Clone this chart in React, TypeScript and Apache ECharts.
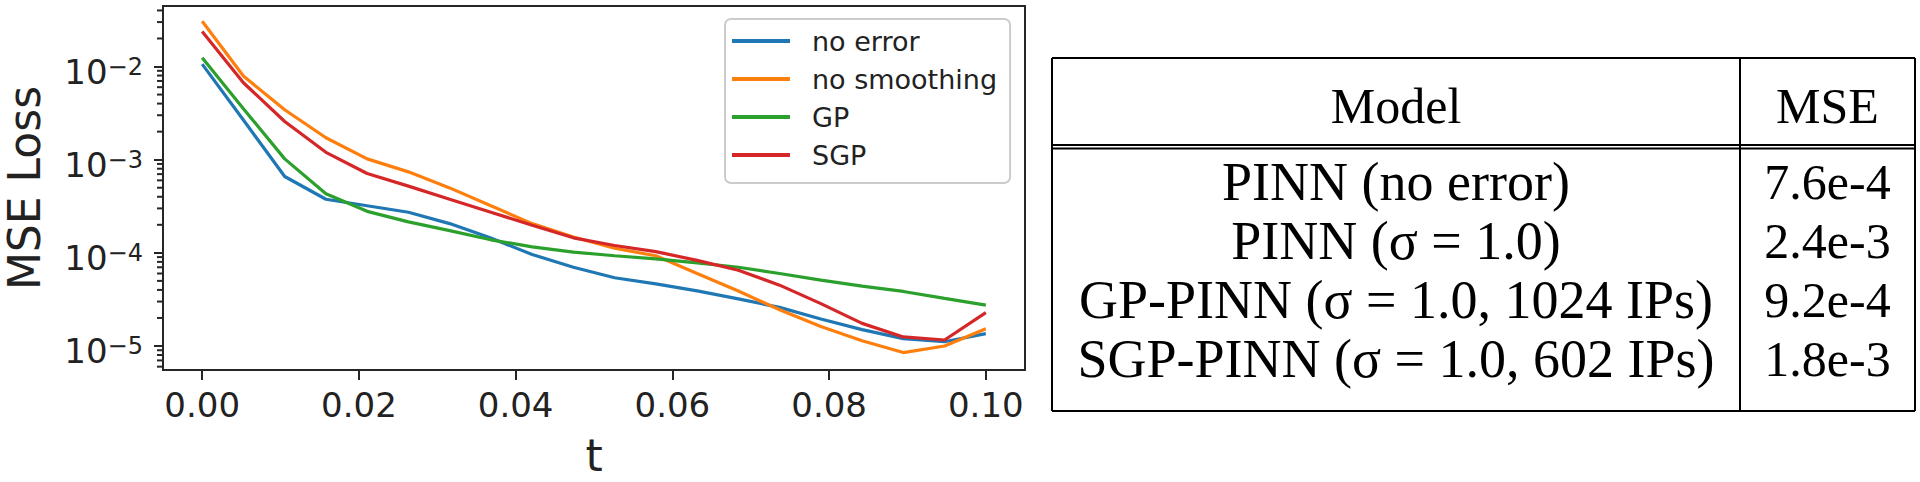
import React, { useEffect, useRef } from 'react';
import * as echarts from 'echarts';

// ---- data ----
const times = [0, 0.00526, 0.01053, 0.01579, 0.02105, 0.02632, 0.03158, 0.03684, 0.04211, 0.04737, 0.05263, 0.05789, 0.06316, 0.06842, 0.07368, 0.07895, 0.08421, 0.08947, 0.09474, 0.1];
const noError = [1.06e-2, 2.67e-3, 6.6e-4, 3.76e-4, 3.2e-4, 2.73e-4, 2.06e-4, 1.44e-4, 9.6e-5, 7.0e-5, 5.4e-5, 4.65e-5, 3.9e-5, 3.2e-5, 2.6e-5, 1.95e-5, 1.5e-5, 1.2e-5, 1.11e-5, 1.36e-5];
const noSmoothing = [3.06e-2, 7.9e-3, 3.44e-3, 1.72e-3, 1.02e-3, 7.4e-4, 4.98e-4, 3.2e-4, 2.06e-4, 1.48e-4, 1.12e-4, 9.3e-5, 6.0e-5, 3.9e-5, 2.45e-5, 1.62e-5, 1.14e-5, 8.5e-6, 1.0e-5, 1.53e-5];
const gpLoss = [1.24e-2, 3.53e-3, 1.02e-3, 4.3e-4, 2.79e-4, 2.15e-4, 1.73e-4, 1.38e-4, 1.16e-4, 1.02e-4, 9.3e-5, 8.6e-5, 7.8e-5, 7.0e-5, 6.0e-5, 5.1e-5, 4.4e-5, 3.85e-5, 3.25e-5, 2.75e-5];
const sgpLoss = [2.37e-2, 6.7e-3, 2.57e-3, 1.2e-3, 7.1e-4, 5.2e-4, 3.76e-4, 2.73e-4, 1.98e-4, 1.45e-4, 1.2e-4, 1.03e-4, 8.3e-5, 6.5e-5, 4.5e-5, 2.85e-5, 1.75e-5, 1.25e-5, 1.16e-5, 2.28e-5];

const seriesNames = ['no error', 'no smoothing', 'GP', 'SGP'];
const seriesValues = [noError, noSmoothing, gpLoss, sgpLoss];
const seriesColors = ['#1f77b4', '#ff7f0e', '#2ca02c', '#d62728'];

const xTicks = [0, 0.02, 0.04, 0.06, 0.08, 0.1];
const xMin = -0.005;
const xMax = 0.105;
const yMajorTicks = [1e-5, 1e-4, 1e-3, 1e-2];
const yMinorTicks = [
  6e-6, 7e-6, 8e-6, 9e-6,
  2e-5, 3e-5, 4e-5, 5e-5, 6e-5, 7e-5, 8e-5, 9e-5,
  2e-4, 3e-4, 4e-4, 5e-4, 6e-4, 7e-4, 8e-4, 9e-4,
  2e-3, 3e-3, 4e-3, 5e-3, 6e-3, 7e-3, 8e-3, 9e-3,
  2e-2, 3e-2, 4e-2,
];
const yMin = 5.525e-6;
const yMax = 0.04464;

const tableHeader = ['Model', 'MSE'];
const tableModels = ['PINN (no error)', 'PINN (σ = 1.0)', 'GP-PINN (σ = 1.0, 1024 IPs)', 'SGP-PINN (σ = 1.0, 602 IPs)'];
const tableMse = ['7.6e-4', '2.4e-3', '9.2e-4', '1.8e-3'];

// ---- layout ----
const SANS = 'DejaVu Sans';
const SERIF = 'Liberation Serif';
const INK = '#262626';
const MINOR_LEN = 6;

const T_LEFT = 1052;
const T_DIV = 1740;
const T_RIGHT = 1915;
const T_TOP = 58;
const T_HEAD1 = 145;
const T_HEAD2 = 148.5;
const T_BOTTOM = 411;
const T_HEAD_Y = 106;
const T_ROW_Y0 = 182;
const T_ROW_STEP = 59;

function buildTable(): any[] {
  const els: any[] = [];
  const line = (x1: number, y1: number, x2: number, y2: number) => ({
    type: 'line',
    shape: { x1, y1, x2, y2 },
    style: { stroke: '#000', lineWidth: 2 },
    silent: true,
  });
  const text = (s: string, x: number, y: number, size: number) => ({
    type: 'text',
    x,
    y,
    style: {
      text: s,
      fontSize: size,
      fontFamily: SERIF,
      fill: '#000',
      textAlign: 'center',
      textVerticalAlign: 'middle',
    },
    silent: true,
  });
  els.push(line(T_LEFT, T_TOP, T_RIGHT, T_TOP));
  els.push(line(T_LEFT, T_HEAD1, T_RIGHT, T_HEAD1));
  els.push(line(T_LEFT, T_HEAD2, T_RIGHT, T_HEAD2));
  els.push(line(T_LEFT, T_BOTTOM, T_RIGHT, T_BOTTOM));
  els.push(line(T_LEFT, T_TOP, T_LEFT, T_BOTTOM));
  els.push(line(T_RIGHT, T_TOP, T_RIGHT, T_BOTTOM));
  els.push(line(T_DIV, T_TOP, T_DIV, T_BOTTOM));
  const cModel = (T_LEFT + T_DIV) / 2;
  const cMse = (T_DIV + T_RIGHT) / 2;
  els.push(text(tableHeader[0], cModel, T_HEAD_Y, 50));
  els.push(text(tableHeader[1], cMse, T_HEAD_Y, 50));
  tableModels.forEach((m, i) => {
    const y = T_ROW_Y0 + i * T_ROW_STEP;
    els.push(text(m, cModel, y, 54));
    els.push(text(tableMse[i], cMse, y, 50));
  });
  return els;
}

export default function App() {
  const ref = useRef<HTMLDivElement>(null);
  useEffect(() => {
    if (!ref.current) return;
    const chart = echarts.init(ref.current, undefined, { renderer: 'svg' });
    const option: any = {
      animation: false,
      backgroundColor: '#ffffff',
      textStyle: { fontFamily: SANS },
      grid: {
        left: 163,
        top: 6,
        width: 862,
        height: 375,
        show: true,
        borderColor: INK,
        borderWidth: 2,
        backgroundColor: 'transparent',
        containLabel: false,
      },
      legend: {
        orient: 'vertical',
        left: 725,
        top: 19,
        padding: [7, 13, 13, 7],
        itemGap: 8,
        itemWidth: 58,
        itemHeight: 4,
        icon: 'rect',
        backgroundColor: 'rgba(255,255,255,0.8)',
        borderColor: '#cccccc',
        borderWidth: 2,
        borderRadius: 6,
        textStyle: {
          fontSize: 27,
          fontFamily: SANS,
          color: '#222',
          lineHeight: 30,
          padding: [0, 0, 0, 17],
        },
        data: seriesNames,
      },
      xAxis: {
        type: 'value',
        min: xMin,
        max: xMax,
        position: 'bottom',
        name: 't',
        nameLocation: 'middle',
        nameGap: 63,
        nameTextStyle: { fontSize: 44, fontFamily: SANS, color: '#222', verticalAlign: 'top' },
        axisLine: { show: false, onZero: false },
        axisTick: { show: true, length: 10, lineStyle: { color: INK, width: 2 }, customValues: xTicks },
        axisLabel: {
          customValues: xTicks,
          fontSize: 34,
          fontFamily: SANS,
          color: '#222',
          margin: 18,
          formatter: (v: number) => v.toFixed(2),
        },
        splitLine: { show: false },
      },
      yAxis: {
        type: 'log',
        logBase: 10,
        min: yMin,
        max: yMax,
        position: 'left',
        name: 'MSE Loss',
        nameLocation: 'middle',
        nameGap: 117,
        nameRotate: 90,
        nameTextStyle: { fontSize: 44, fontFamily: SANS, color: '#222' },
        axisLine: { show: false, onZero: false },
        axisTick: { show: true, length: 9, lineStyle: { color: INK, width: 2 }, customValues: yMajorTicks },
        axisLabel: {
          customValues: yMajorTicks,
          margin: 20,
          padding: [10, 0, 0, 0],
          color: '#222',
          formatter: (v: number) => {
            const e = Math.round(Math.log10(v));
            return '{b|10}{s|' + (e < 0 ? '\u2212' : '') + Math.abs(e) + '}';
          },
          rich: {
            b: { fontSize: 34, fontFamily: SANS, color: '#222', verticalAlign: 'bottom' },
            s: { fontSize: 24, fontFamily: SANS, color: '#222', verticalAlign: 'top' },
          },
        },
        splitLine: { show: false },
      },
      series: [
        ...seriesNames.map((name, k) => ({
          name,
          type: 'line',
          showSymbol: false,
          symbol: 'none',
          color: seriesColors[k],
          lineStyle: { color: seriesColors[k], width: 3.2 },
          data: times.map((t, i) => [t, seriesValues[k][i]]),
        })),
        {
          type: 'custom',
          silent: true,
          clip: false,
          z: 10,
          data: yMinorTicks.map((v) => [xMin, v]),
          renderItem: (params: any, api: any) => {
            const p = api.coord([api.value(0), api.value(1)]);
            return {
              type: 'line',
              shape: { x1: p[0] - MINOR_LEN, y1: p[1], x2: p[0], y2: p[1] },
              style: { stroke: INK, lineWidth: 2 },
            };
          },
        },
      ],
      graphic: buildTable(),
    };
    chart.setOption(option);
    return () => chart.dispose();
  }, []);
  return (
    <div
      ref={ref}
      style={{ position: 'fixed', left: 0, top: 0, width: 1920, height: 482, background: '#fff' }}
    />
  );
}
